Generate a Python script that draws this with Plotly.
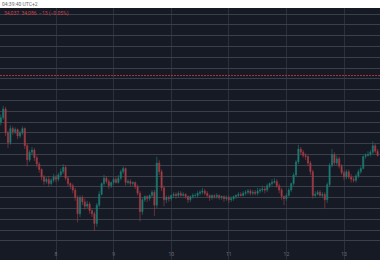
import pandas as pd
import plotly.graph_objects as go

# hourly candles, 2023-11-07 01:00 .. 2023-11-13 14:00
times = pd.date_range("2023-11-07 01:00", periods=158, freq="h")

opens = [34000, 34004, 34012, 33990, 33981, 33994, 33991, 33993, 33987, 33990,
         33994, 33978, 33965, 33972, 33974, 33967, 33961, 33956, 33949, 33945,
         33947, 33943, 33946, 33949, 33947, 33951, 33954, 33958, 33948, 33943,
         33941, 33937, 33930, 33915, 33930, 33926, 33922, 33924, 33918, 33915,
         33906, 33923, 33933, 33943, 33948, 33945, 33941, 33944, 33947, 33944,
         33948, 33954, 33957, 33944, 33945, 33943, 33944, 33940, 33934, 33917,
         33928, 33931, 33929, 33932, 33935, 33923, 33962, 33954, 33939, 33928,
         33930, 33929, 33932, 33933, 33932, 33934, 33932, 33933, 33931, 33928,
         33931, 33932, 33932, 33934, 33935, 33936, 33934, 33932, 33930, 33932,
         33931, 33932, 33930, 33931, 33929, 33930, 33928, 33929, 33931, 33932,
         33933, 33932, 33934, 33935, 33936, 33934, 33935, 33934, 33936, 33937,
         33938, 33937, 33941, 33943, 33944, 33945, 33941, 33937, 33931, 33929,
         33932, 33937, 33943, 33951, 33963, 33975, 33972, 33969, 33968, 33962,
         33954, 33932, 33933, 33935, 33932, 33933, 33928, 33942, 33960, 33970,
         33962, 33966, 33959, 33953, 33949, 33954, 33949, 33947, 33946, 33950,
         33954, 33957, 33968, 33969, 33970, 33972, 33978, 33973]

closes = [34004, 34012, 33990, 33981, 33994, 33991, 33993, 33987, 33990, 33994,
          33978, 33965, 33972, 33974, 33967, 33961, 33956, 33949, 33945, 33947,
          33943, 33946, 33949, 33947, 33951, 33954, 33958, 33948, 33943, 33941,
          33937, 33930, 33915, 33930, 33926, 33922, 33924, 33918, 33915, 33906,
          33923, 33933, 33943, 33948, 33945, 33941, 33944, 33947, 33944, 33948,
          33954, 33957, 33944, 33945, 33943, 33944, 33940, 33934, 33917, 33928,
          33931, 33929, 33932, 33935, 33923, 33962, 33954, 33939, 33928, 33930,
          33929, 33932, 33933, 33932, 33934, 33932, 33933, 33931, 33928, 33931,
          33932, 33932, 33934, 33935, 33936, 33934, 33932, 33930, 33932, 33931,
          33932, 33930, 33931, 33929, 33930, 33928, 33929, 33931, 33932, 33933,
          33932, 33934, 33935, 33936, 33934, 33935, 33934, 33936, 33937, 33938,
          33937, 33941, 33943, 33944, 33945, 33941, 33937, 33931, 33929, 33932,
          33937, 33943, 33951, 33963, 33975, 33972, 33969, 33968, 33962, 33954,
          33932, 33933, 33935, 33932, 33933, 33928, 33942, 33960, 33970, 33962,
          33966, 33959, 33953, 33949, 33954, 33949, 33947, 33946, 33950, 33954,
          33957, 33968, 33969, 33970, 33972, 33978, 33973, 33969]

highs = [34007, 34015, 34014, 33992, 33997, 33996, 33995, 33994, 33992, 33996,
         33995, 33980, 33974, 33977, 33976, 33969, 33963, 33957, 33951, 33949,
         33950, 33948, 33952, 33951, 33953, 33957, 33961, 33960, 33950, 33944,
         33943, 33939, 33932, 33932, 33932, 33929, 33927, 33926, 33919, 33917,
         33925, 33936, 33944, 33951, 33950, 33947, 33945, 33949, 33949, 33951,
         33956, 33959, 33958, 33947, 33947, 33945, 33945, 33942, 33936, 33930,
         33932, 33932, 33933, 33937, 33937, 33968, 33965, 33956, 33941, 33932,
         33932, 33933, 33935, 33935, 33936, 33936, 33935, 33934, 33932, 33932,
         33934, 33934, 33936, 33937, 33939, 33938, 33936, 33933, 33933, 33933,
         33934, 33933, 33932, 33932, 33932, 33932, 33931, 33932, 33933, 33935,
         33935, 33936, 33937, 33938, 33938, 33937, 33937, 33939, 33939, 33941,
         33940, 33943, 33944, 33947, 33948, 33947, 33943, 33939, 33932, 33934,
         33939, 33944, 33953, 33965, 33979, 33977, 33974, 33971, 33969, 33964,
         33956, 33936, 33937, 33937, 33935, 33935, 33944, 33962, 33975, 33972,
         33969, 33968, 33961, 33955, 33956, 33956, 33952, 33949, 33952, 33956,
         33959, 33969, 33971, 33973, 33974, 33982, 33980, 33975]

lows = [33997, 34002, 33987, 33976, 33979, 33988, 33989, 33984, 33985, 33988,
        33975, 33959, 33963, 33969, 33964, 33958, 33953, 33946, 33942, 33943,
        33940, 33941, 33944, 33944, 33945, 33949, 33952, 33946, 33940, 33938,
        33934, 33927, 33907, 33912, 33923, 33919, 33920, 33915, 33912, 33899,
        33903, 33921, 33932, 33941, 33943, 33938, 33939, 33942, 33943, 33943,
        33946, 33952, 33941, 33942, 33940, 33941, 33938, 33932, 33908, 33914,
        33926, 33926, 33927, 33930, 33913, 33920, 33951, 33936, 33922, 33925,
        33926, 33927, 33930, 33929, 33930, 33931, 33931, 33929, 33925, 33926,
        33929, 33930, 33930, 33932, 33933, 33932, 33930, 33927, 33928, 33929,
        33929, 33928, 33928, 33926, 33927, 33925, 33926, 33927, 33929, 33930,
        33931, 33931, 33932, 33933, 33932, 33932, 33932, 33932, 33934, 33935,
        33934, 33935, 33939, 33941, 33943, 33939, 33934, 33928, 33923, 33927,
        33931, 33935, 33941, 33949, 33961, 33969, 33967, 33965, 33959, 33951,
        33929, 33930, 33932, 33931, 33930, 33920, 33925, 33940, 33958, 33960,
        33960, 33957, 33951, 33946, 33947, 33947, 33944, 33944, 33944, 33948,
        33952, 33956, 33966, 33968, 33968, 33970, 33971, 33968]

day_ticks = ["2023-11-08", "2023-11-09", "2023-11-10", "2023-11-11", "2023-11-12", "2023-11-13"]
day_labels = ["8", "9", "10", "11", "12", "13"]
price_line = 34043
header_time = "04:39:40 UTC+2"
header_values = "34,037  34,086  −13 (−0.05%)"

BG = "#161a25"
UP = "#1d7c74"
DOWN = "#a63c45"
fig = go.Figure()
fig.add_trace(go.Candlestick(
    x=times, open=opens, high=highs, low=lows, close=closes,
    increasing=dict(line=dict(color=UP, width=0.6), fillcolor=UP),
    decreasing=dict(line=dict(color=DOWN, width=0.6), fillcolor=DOWN),
    whiskerwidth=0, hoverinfo="skip", showlegend=False,
))
fig.add_hline(y=price_line, line=dict(color="#b3323c", width=1, dash="2px,1px"))

fig.update_layout(
    width=380, height=280,
    margin=dict(l=0, r=0, t=8, b=20),
    paper_bgcolor="white", plot_bgcolor=BG,
    showlegend=False,
    font=dict(family="Roboto, DejaVu Sans", size=6, color="#6f7380"),
    xaxis=dict(
        range=["2023-11-07 00:40", "2023-11-13 15:00"],
        tickvals=day_ticks, ticktext=day_labels,
        ticklabelposition="inside", ticks="",
        tickfont=dict(size=5, color="#6a6e7a"),
        showgrid=True, gridcolor="#2c303b", gridwidth=1,
        zeroline=False, showline=False,
        rangeslider=dict(visible=False), fixedrange=True,
    ),
    yaxis=dict(
        range=[33872.22, 34105.56],
        tick0=34100, dtick=10,
        showticklabels=False, ticks="",
        showgrid=True, gridcolor="#3b3f4a", gridwidth=1,
        zeroline=False, showline=False, fixedrange=True,
    ),
    annotations=[
        dict(text=header_time, xref="paper", yref="paper", x=0.0, y=1.0,
             xanchor="left", yanchor="bottom", showarrow=False,
             font=dict(size=5, color="#666666"), yshift=-1),
        dict(text=header_values, xref="paper", yref="paper", x=0.005, y=0.98,
             xanchor="left", yanchor="middle", showarrow=False,
             font=dict(size=5, color="#c8444a")),
    ],
)
fig.write_html("out.html")
